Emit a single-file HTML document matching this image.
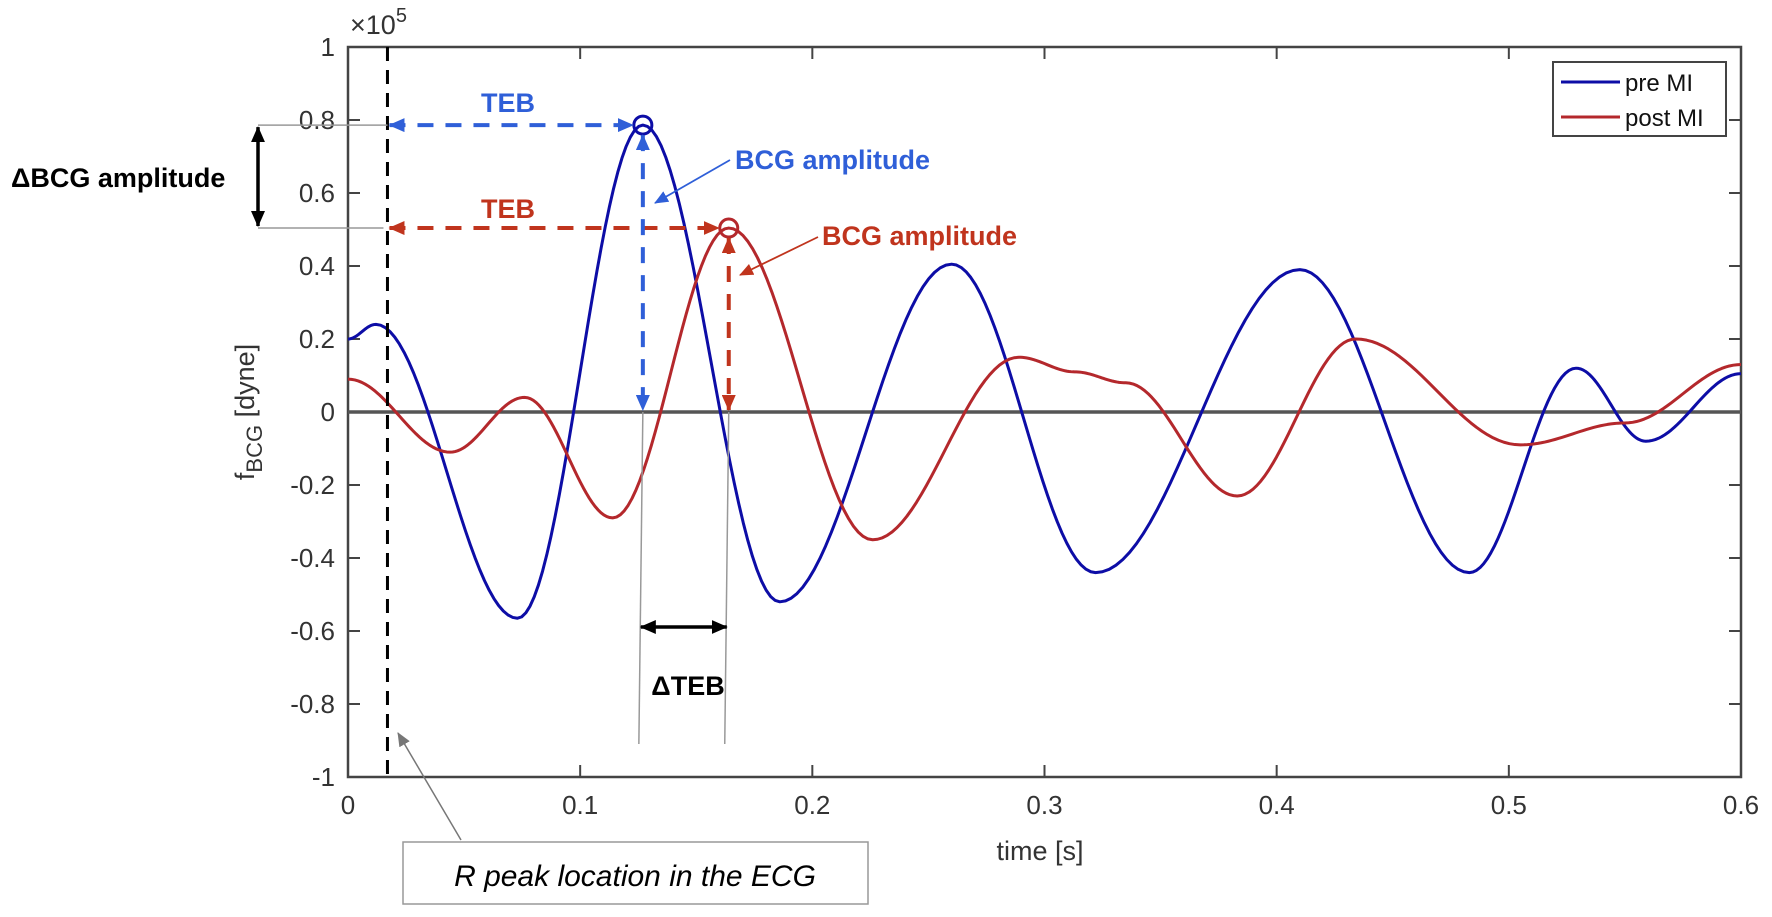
<!DOCTYPE html>
<html><head><meta charset="utf-8">
<style>
html,body{margin:0;padding:0;background:#fff;}
svg{display:block;}
text{font-family:"Liberation Sans",sans-serif;}
</style></head>
<body>
<svg id="chart" width="1772" height="917" viewBox="0 0 1772 917" xmlns="http://www.w3.org/2000/svg">
<defs>
<marker id="abl" markerWidth="16" markerHeight="14" refX="15" refY="7" orient="auto-start-reverse" markerUnits="userSpaceOnUse"><path d="M0,0 L16,7 L0,14 z" fill="#2f5fd8"/></marker>
<marker id="ard" markerWidth="16" markerHeight="14" refX="15" refY="7" orient="auto-start-reverse" markerUnits="userSpaceOnUse"><path d="M0,0 L16,7 L0,14 z" fill="#c0341d"/></marker>
<marker id="abk" markerWidth="16" markerHeight="14" refX="15" refY="7" orient="auto-start-reverse" markerUnits="userSpaceOnUse"><path d="M0,0 L16,7 L0,14 z" fill="#000"/></marker>
<marker id="agr" markerWidth="14" markerHeight="12" refX="13" refY="6" orient="auto" markerUnits="userSpaceOnUse"><path d="M0,0 L14,6 L0,12 z" fill="#777"/></marker>
<marker id="athb" markerWidth="14" markerHeight="12" refX="13" refY="6" orient="auto" markerUnits="userSpaceOnUse"><path d="M0,0 L14,6 L0,12 z" fill="#2f5fd8"/></marker>
<marker id="athr" markerWidth="14" markerHeight="12" refX="13" refY="6" orient="auto" markerUnits="userSpaceOnUse"><path d="M0,0 L14,6 L0,12 z" fill="#c0341d"/></marker>
</defs>
<g id="marks"></g>
</svg>
<script>
const xTicks=[0,0.1,0.2,0.3,0.4,0.5,0.6];
const xTickLabels=["0","0.1","0.2","0.3","0.4","0.5","0.6"];
const yTicks=[-1,-0.8,-0.6,-0.4,-0.2,0,0.2,0.4,0.6,0.8,1];
const yTickLabels=["-1","-0.8","-0.6","-0.4","-0.2","0","0.2","0.4","0.6","0.8","1"];
const preT=[0,0.012,0.073,0.127,0.186,0.26,0.322,0.41,0.483,0.529,0.559,0.6];
const preV=[0.2,0.24,-0.565,0.786,-0.52,0.405,-0.44,0.39,-0.44,0.12,-0.08,0.105];
const postT=[0,0.044,0.076,0.114,0.164,0.226,0.289,0.313,0.335,0.383,0.434,0.505,0.55,0.6];
const postV=[0.09,-0.11,0.04,-0.29,0.504,-0.35,0.15,0.11,0.08,-0.23,0.20,-0.09,-0.03,0.13];
const rPeakT=0.017;
const prePeak=[0.127,0.786];
const postPeak=[0.164,0.504];

const L=348,R=1741,T=47,B=777;
const sx=t=>L+(t-0)/(0.6)*(R-L);
const sy=v=>B-(v+1)/2*(B-T);
const NS="http://www.w3.org/2000/svg";
const g=document.getElementById('marks');
function el(tag,attrs,parent){const e=document.createElementNS(NS,tag);for(const k in attrs)e.setAttribute(k,attrs[k]);(parent||g).appendChild(e);return e;}
function txt(s,attrs){const e=el('text',attrs);e.textContent=s;return e;}
function path(ts,vs){
  let d='';
  for(let i=0;i<ts.length-1;i++){
    const N=30;
    for(let k=(i===0?0:1);k<=N;k++){
      const f=k/N;const t=ts[i]+(ts[i+1]-ts[i])*f;
      const v=vs[i]+(vs[i+1]-vs[i])*(1-Math.cos(Math.PI*f))/2;
      d+=(d?' L':'M')+sx(t).toFixed(2)+','+sy(v).toFixed(2);
    }
  }
  return d;
}
xTicks.forEach((t,i)=>{
  let e=el('line',{x1:sx(t),x2:sx(t),y1:B,y2:B-12,stroke:'#444','stroke-width':2});
  
  e=el('line',{x1:sx(t),x2:sx(t),y1:T,y2:T+12,stroke:'#444','stroke-width':2});
  
  e=txt(xTickLabels[i],{x:sx(t),y:B+37,'font-size':26,'text-anchor':'middle',fill:'#333'});
  
});
yTicks.forEach((v,i)=>{
  let e=el('line',{x1:L,x2:L+12,y1:sy(v),y2:sy(v),stroke:'#444','stroke-width':2});
  
  e=el('line',{x1:R,x2:R-12,y1:sy(v),y2:sy(v),stroke:'#444','stroke-width':2});
  
  e=txt(yTickLabels[i],{x:335,y:sy(v)+9,'font-size':26,'text-anchor':'end',fill:'#333'});
  
});
let e;
e=el('rect',{x:L,y:T,width:R-L,height:B-T,fill:'none',stroke:'#444','stroke-width':2.5});

e=el('line',{x1:L,x2:R,y1:sy(0),y2:sy(0),stroke:'#555','stroke-width':3.5});

e=el('path',{d:path(preT,preV),fill:'none',stroke:'#0d0da6','stroke-width':3,'stroke-linejoin':'round'});

e=el('path',{d:path(postT,postV),fill:'none',stroke:'#b4282c','stroke-width':3,'stroke-linejoin':'round'});

e=el('line',{x1:sx(rPeakT),x2:sx(rPeakT),y1:T,y2:B,stroke:'#000','stroke-width':3,'stroke-dasharray':'14,9'});

e=el('circle',{cx:sx(prePeak[0]),cy:sy(prePeak[1]),r:9,fill:'none',stroke:'#0d0da6','stroke-width':3});

e=el('circle',{cx:sx(postPeak[0]),cy:sy(postPeak[1]),r:9,fill:'none',stroke:'#b4282c','stroke-width':3});

e=el('line',{x1:sx(rPeakT)+2,x2:sx(prePeak[0])-10,y1:sy(prePeak[1]),y2:sy(prePeak[1]),stroke:'#2f5fd8','stroke-width':4,'stroke-dasharray':'16,12','marker-start':'url(#abl)','marker-end':'url(#abl)'});

e=el('line',{x1:sx(rPeakT)+2,x2:sx(postPeak[0])-10,y1:sy(postPeak[1]),y2:sy(postPeak[1]),stroke:'#c0341d','stroke-width':4,'stroke-dasharray':'16,12','marker-start':'url(#ard)','marker-end':'url(#ard)'});

e=el('line',{x1:sx(prePeak[0]),x2:sx(prePeak[0]),y1:sy(prePeak[1])+10,y2:sy(0)-2,stroke:'#2f5fd8','stroke-width':4,'stroke-dasharray':'16,12','marker-start':'url(#abl)','marker-end':'url(#abl)'});

e=el('line',{x1:sx(postPeak[0]),x2:sx(postPeak[0]),y1:sy(postPeak[1])+10,y2:sy(0)-2,stroke:'#c0341d','stroke-width':4,'stroke-dasharray':'16,12','marker-start':'url(#ard)','marker-end':'url(#ard)'});

e=el('line',{x1:258,x2:sx(rPeakT),y1:sy(prePeak[1]),y2:sy(prePeak[1]),stroke:'#999','stroke-width':1.5});

e=el('line',{x1:258,x2:sx(rPeakT)-4,y1:sy(postPeak[1]),y2:sy(postPeak[1]),stroke:'#999','stroke-width':1.5});

e=el('line',{x1:sx(prePeak[0]),x2:sx(prePeak[0])-4,y1:sy(0),y2:744,stroke:'#999','stroke-width':1.5});

e=el('line',{x1:sx(postPeak[0]),x2:sx(postPeak[0])-4,y1:sy(0),y2:744,stroke:'#999','stroke-width':1.5});

e=el('line',{x1:258,x2:258,y1:sy(prePeak[1])+2,y2:sy(postPeak[1])-2,stroke:'#000','stroke-width':3.5,'marker-start':'url(#abk)','marker-end':'url(#abk)'});

e=el('line',{x1:sx(prePeak[0])-2,x2:sx(postPeak[0])-2,y1:627,y2:627,stroke:'#000','stroke-width':3.5,'marker-start':'url(#abk)','marker-end':'url(#abk)'});

e=el('line',{x1:730,x2:655,y1:160,y2:203,stroke:'#2f5fd8','stroke-width':1.8,'marker-end':'url(#athb)'});

e=el('line',{x1:818,x2:740,y1:237,y2:275,stroke:'#c0341d','stroke-width':1.8,'marker-end':'url(#athr)'});

e=el('line',{x1:461,x2:398,y1:840,y2:733,stroke:'#777','stroke-width':1.5,'marker-end':'url(#agr)'});

const T2=[
 ['TEB',508,112,'#2f5fd8','teb-pre-label','bold','normal',27,'middle'],
 ['TEB',508,218,'#c0341d','teb-post-label','bold','normal',27,'middle'],
 ['BCG amplitude',735,169,'#2f5fd8','bcg-pre-label','bold','normal',27,'start'],
 ['BCG amplitude',822,245,'#c0341d','bcg-post-label','bold','normal',27,'start'],
 ['ΔBCG amplitude',11,187,'#000','delta-bcg-label','bold','normal',27,'start'],
 ['ΔTEB',688,695,'#000','delta-teb-label','bold','normal',27,'middle'],
 ['time [s]',1040,860,'#333','x-axis-title','normal','normal',27,'middle'],
 ['R peak location in the ECG',635,886,'#000','r-peak-label','normal','italic',30,'middle']
];
T2.forEach(a=>{const t=txt(a[0],{x:a[1],y:a[2],fill:a[3],'font-weight':a[5],'font-style':a[6],'font-size':a[7],'text-anchor':a[8]});
 });
e=el('rect',{x:403,y:842,width:465,height:62,fill:'none',stroke:'#999','stroke-width':1.5});

e=txt('',{transform:'translate(254,412) rotate(-90)','font-size':27,'text-anchor':'middle',fill:'#333'});
e.innerHTML='f<tspan dy="8" font-size="22">BCG</tspan><tspan dy="-8"> [dyne]</tspan>';

e=txt('',{x:350,y:34,'font-size':27,fill:'#333'});
e.innerHTML='×10<tspan dy="-12" font-size="20">5</tspan>';

e=el('rect',{x:1553,y:62,width:173,height:74,fill:'#fff',stroke:'#444','stroke-width':2});

e=el('line',{x1:1561,x2:1620,y1:82,y2:82,stroke:'#0d0da6','stroke-width':3});

e=el('line',{x1:1561,x2:1620,y1:117,y2:117,stroke:'#b4282c','stroke-width':3});

e=txt('pre MI',{x:1625,y:91,'font-size':24,fill:'#111'});

e=txt('post MI',{x:1625,y:126,'font-size':24,fill:'#111'});

</script>
</body></html>
